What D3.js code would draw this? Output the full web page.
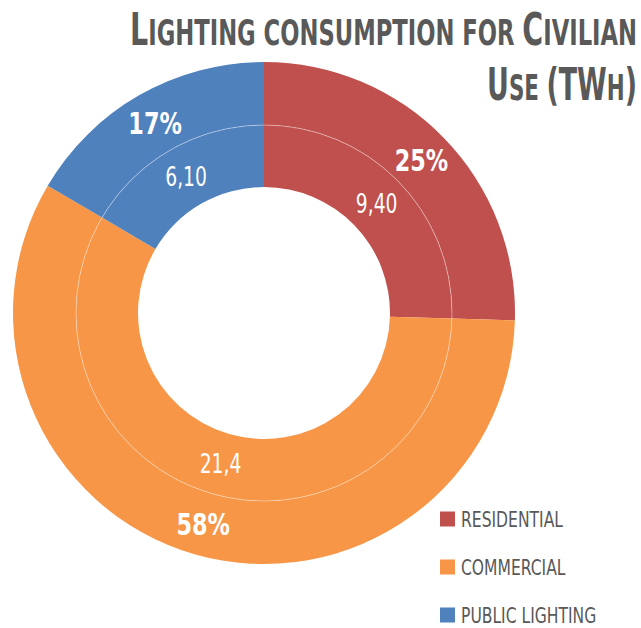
<!DOCTYPE html>
<html>
<head>
<meta charset="utf-8">
<script src="https://cdn.jsdelivr.net/npm/d3@7"></script>
<style>
  html, body { margin: 0; padding: 0; background: #ffffff; }
  svg { display: block; }
  text { font-family: "Liberation Sans Narrow", "DejaVu Sans Condensed", "Roboto", sans-serif; }
</style>
</head>
<body>
<svg id="chart" width="641" height="628"></svg>
<script>
// Lighting consumption by civilian use, TWh
const categories = ["RESIDENTIAL", "COMMERCIAL", "PUBLIC LIGHTING"];
const values = [9.40, 21.4, 6.10];
const valueLabels = ["9,40", "21,4", "6,10"];
const colors = ["#C0504D", "#F79646", "#4F81BD"];

// Title pieces: [text, isCapital]
const titleLine1 = [["L", true], ["IGHTING CONSUMPTION FOR ", false], ["C", true], ["IVILIAN", false]];
const titleLine2 = [["U", true], ["SE ", false], ["(TW", true], ["H", false], [")", true]];

const svg = d3.select("#chart");
const cx = 264, cy = 313;
const rInner = 126, rMid = 188, rOuter = 251;
const squeeze = 0.8;   // horizontal condensing for ring labels

function condense(sel, ox, oy, sx) {
  sel.attr("transform", `translate(${ox},${oy}) scale(${sx},1) translate(${-ox},${-oy})`);
}

const pie = d3.pie().sort(null).value(d => d);
const arcs = pie(values);
const total = d3.sum(values);

const g = svg.append("g").attr("transform", `translate(${cx},${cy})`);

const outerArc = d3.arc().innerRadius(rMid).outerRadius(rOuter);
const innerArc = d3.arc().innerRadius(rInner).outerRadius(rMid);

// outer ring: shares
g.selectAll("path.outer").data(arcs).join("path")
  .attr("class", "outer")
  .attr("d", outerArc)
  .attr("fill", (d, i) => colors[i]);

// inner ring: absolute values
g.selectAll("path.inner").data(arcs).join("path")
  .attr("class", "inner")
  .attr("d", innerArc)
  .attr("fill", (d, i) => colors[i]);

// thin separator between the two rings
g.append("circle")
  .attr("r", rMid)
  .attr("fill", "none")
  .attr("stroke", "#ffffff")
  .attr("stroke-opacity", 0.4)
  .attr("stroke-width", 1);

// percentage labels on the outer ring
const pctSize = 31;
arcs.forEach((a, i) => {
  const [x, y] = outerArc.centroid(a);
  const t = g.append("text")
    .attr("x", x)
    .attr("y", y + pctSize * 0.36)
    .attr("text-anchor", "middle")
    .attr("font-size", pctSize)
    .attr("font-weight", "bold")
    .attr("fill", "#ffffff")
    .text(Math.round(values[i] / total * 100) + "%");
  condense(t, x, y, squeeze);
});

// value labels on the inner ring
const valSize = 26;
arcs.forEach((a, i) => {
  const [x, y] = innerArc.centroid(a);
  const t = g.append("text")
    .attr("x", x)
    .attr("y", y + valSize * 0.36)
    .attr("text-anchor", "middle")
    .attr("font-size", valSize)
    .attr("fill", "#ffffff")
    .text(valueLabels[i]);
  condense(t, x, y, squeeze);
});

// title, small caps, right aligned and condensed to its column width
const titleRight = 637;
function titleLine(parts, baseline, width) {
  const t = svg.append("text")
    .attr("x", titleRight)
    .attr("y", baseline)
    .attr("text-anchor", "end")
    .attr("font-weight", "bold")
    .attr("fill", "#595959");
  parts.forEach(([s, cap]) => {
    t.append("tspan").attr("font-size", cap ? 44 : 35).text(s);
  });
  const w = t.node().getComputedTextLength();
  condense(t, titleRight, baseline, width / w);
}
titleLine(titleLine1, 45, 507);
titleLine(titleLine2, 100, 150);

// legend
const legend = svg.append("g");
const legendY = d3.scalePoint().domain(categories).range([519, 615]);
const legendX = 461;
const items = categories.map((c, i) => {
  const y = legendY(c);
  legend.append("rect")
    .attr("x", 440).attr("y", y - 7.5)
    .attr("width", 15).attr("height", 15)
    .attr("fill", colors[i]);
  const t = legend.append("text")
    .attr("x", legendX).attr("y", y + 8)
    .attr("font-size", 22)
    .attr("fill", "#595959")
    .text(c);
  return { t, y };
});
// common condensing so the first entry spans its column
const legendScale = 102 / items[0].t.node().getComputedTextLength();
items.forEach(({ t, y }) => condense(t, legendX, y, legendScale));
</script>
</body>
</html>
